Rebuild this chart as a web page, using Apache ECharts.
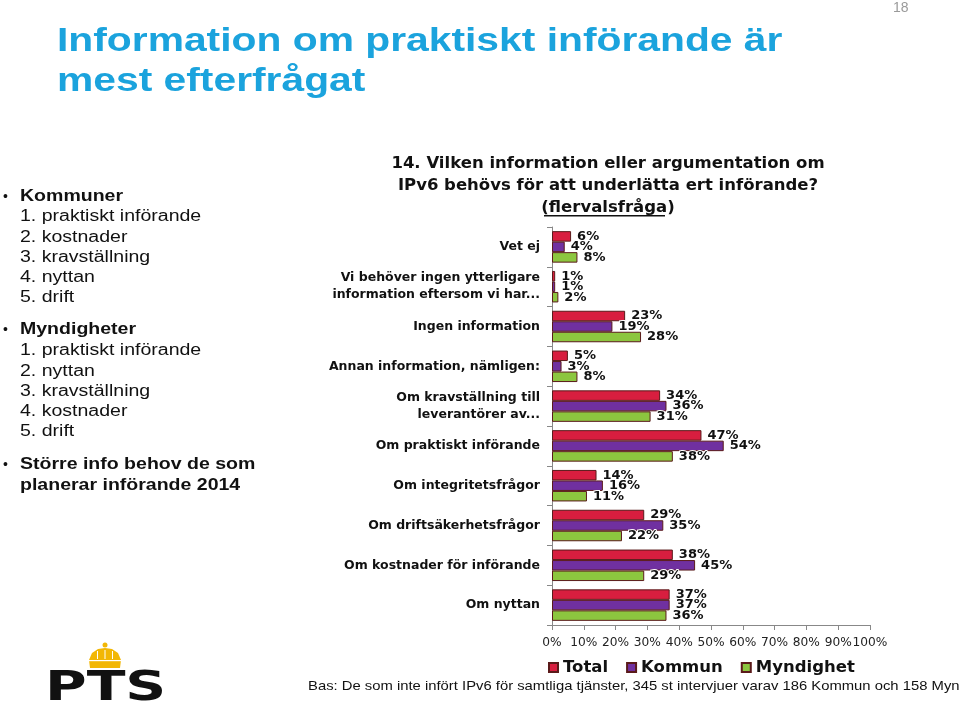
<!DOCTYPE html>
<html><head><meta charset="utf-8">
<script src="https://cdn.jsdelivr.net/npm/echarts@6/dist/echarts.min.js"></script>
<style>html,body{margin:0;padding:0;background:#fff}#c{width:960px;height:706px}</style>
</head><body><div id="c"></div>
<script>
const categories = ['Vet ej', 'Vi behöver ingen ytterligare\ninformation eftersom vi har...', 'Ingen information', 'Annan information, nämligen:', 'Om kravställning till\nleverantörer av...', 'Om praktiskt införande', 'Om integritetsfrågor', 'Om driftsäkerhetsfrågor', 'Om kostnader för införande', 'Om nyttan'];
const seriesNames = ['Total', 'Kommun', 'Myndighet'];
const total = [6, 1, 23, 5, 34, 47, 14, 29, 38, 37];
const kommun = [4, 1, 19, 3, 36, 54, 16, 35, 45, 37];
const myndighet = [8, 2, 28, 8, 31, 38, 11, 22, 29, 36];
const xTicks = [0, 10, 20, 30, 40, 50, 60, 70, 80, 90, 100];
const colors = ['#D81E3F', '#7030A0', '#8CC63F'];

const slideTitle = 'Information om praktiskt införande är\nmest efterfrågat';
const chartTitle = '14. Vilken information eller argumentation om\nIPv6 behövs för att underlätta ert införande?\n(flervalsfråga)';
const footer = 'Bas: De som inte infört IPv6 för samtliga tjänster, 345 st intervjuer varav 186 Kommun och 158 Myndighet';

const chart = echarts.init(document.getElementById('c'));
const valueSets = [total, kommun, myndighet];

const series = seriesNames.map((n, i) => ({
  name: n,
  type: 'bar',
  data: valueSets[i],
  barWidth: 10.5,
  barGap: '0%',
  itemStyle: { color: colors[i], borderColor: '#5a1a1a', borderWidth: 1 },
  label: {
    show: true, position: 'right', distance: 6,
    formatter: '{c}%',
    fontFamily: 'DejaVu Sans', fontWeight: 'bold', fontSize: 13, color: '#111',
    textBorderColor: '#fff', textBorderWidth: 2
  }
}));

const txt = (o) => ({ type: 'text', silent: true, ...o });
const SX = 1.22;
const leftFont = { fontFamily: 'Liberation Sans', fontSize: 16, fill: '#111', textVerticalAlign: 'top' };

chart.setOption({
  animation: false,
  backgroundColor: '#fff',
  title: {
    text: chartTitle,
    left: 603, top: 148, textAlign: 'center',
    textStyle: { fontFamily: 'DejaVu Sans', fontWeight: 'bold', fontSize: 16.5, lineHeight: 22, color: '#111' }
  },
  legend: {
    data: seriesNames,
    left: 543, top: 654,
    icon: 'rect', itemWidth: 9, itemHeight: 9, itemGap: 18,
    textStyle: { fontFamily: 'DejaVu Sans', fontWeight: 'bold', fontSize: 16.5, color: '#111' }
  },
  grid: { left: 552, right: 90, top: 227, bottom: 81, containLabel: false },
  xAxis: {
    type: 'value', min: 0, max: 100, interval: 10,
    axisLine: { show: true, lineStyle: { color: '#888' } },
    axisTick: { show: true, length: 5, lineStyle: { color: '#888' } },
    splitLine: { show: false },
    axisLabel: { formatter: '{value}%', margin: 12, showMinLabel: true, showMaxLabel: true, fontFamily: 'DejaVu Sans', fontSize: 12.2, color: '#222' }
  },
  yAxis: {
    type: 'category', data: categories, inverse: true,
    axisLine: { show: true, lineStyle: { color: '#888' } },
    axisTick: { show: true, length: 5, lineStyle: { color: '#888' } },
    axisLabel: { margin: 12, fontFamily: 'DejaVu Sans', fontWeight: 'bold', fontSize: 12.5, lineHeight: 17, color: '#111', align: 'right' }
  },
  series: series,
  graphic: [
    txt({ x: 57, y: 22, scaleX: 1.2, style: { text: slideTitle, x: 0, y: 0, fontFamily: 'Liberation Sans', fontWeight: 'bold', fontSize: 34, lineHeight: 40, fill: '#1BA3DD', textVerticalAlign: 'top' } }),
    txt({ x: 893, y: 8, style: { text: '18', fontFamily: 'Liberation Sans', fontSize: 14, fill: '#9a9a9a', textVerticalAlign: 'middle' } }),
    // bullets
    txt({ x: 3, y: 197, style: { text: '•', fontFamily: 'Liberation Sans', fontSize: 14, fill: '#111', textVerticalAlign: 'middle' } }),
    txt({ x: 20, y: 187, scaleX: SX, style: { ...leftFont, text: 'Kommuner', fontWeight: 'bold', lineHeight: 20 } }),
    txt({ x: 20, y: 206.9, scaleX: SX, style: { ...leftFont, text: '1. praktiskt införande\n2. kostnader\n3. kravställning\n4. nyttan\n5. drift', lineHeight: 20.25 } }),
    txt({ x: 3, y: 330, style: { text: '•', fontFamily: 'Liberation Sans', fontSize: 14, fill: '#111', textVerticalAlign: 'middle' } }),
    txt({ x: 20, y: 320, scaleX: SX, style: { ...leftFont, text: 'Myndigheter', fontWeight: 'bold', lineHeight: 20 } }),
    txt({ x: 20, y: 340.9, scaleX: SX, style: { ...leftFont, text: '1. praktiskt införande\n2. nyttan\n3. kravställning\n4. kostnader\n5. drift', lineHeight: 20.25 } }),
    txt({ x: 3, y: 465, style: { text: '•', fontFamily: 'Liberation Sans', fontSize: 14, fill: '#111', textVerticalAlign: 'middle' } }),
    txt({ x: 20, y: 454.5, scaleX: SX, style: { ...leftFont, text: 'Större info behov de som\nplanerar införande 2014', fontWeight: 'bold', lineHeight: 21 } }),
    // footer
    txt({ x: 308, y: 686, scaleX: 1.14, style: { text: footer, fontFamily: 'Liberation Sans', fontSize: 13, fill: '#111', textVerticalAlign: 'middle' } }),
    // underline for flervalsfråga
    { type: 'rect', silent: true, shape: { x: 544, y: 215, width: 121, height: 1.5 }, style: { fill: '#111' } },
    // logo crown
    { type: 'polygon', silent: true, shape: { points: [[90, 668], [120, 668], [121, 660], [118, 653], [112, 649], [105, 648], [98, 649], [92, 653], [89, 660]] }, style: { fill: '#F2B705' } },
    { type: 'circle', silent: true, shape: { cx: 105, cy: 645, r: 2.5 }, style: { fill: '#F2B705' } },
    { type: 'rect', silent: true, shape: { x: 89, y: 660, width: 32, height: 1.2 }, style: { fill: '#fff' } },
    { type: 'rect', silent: true, shape: { x: 97, y: 651, width: 1, height: 8 }, style: { fill: '#fff' } },
    { type: 'rect', silent: true, shape: { x: 104.5, y: 650, width: 1, height: 9 }, style: { fill: '#fff' } },
    { type: 'rect', silent: true, shape: { x: 112, y: 651, width: 1, height: 8 }, style: { fill: '#fff' } },
    txt({ x: 45, y: 690, scaleX: 1.42, style: { text: 'PTS', fontFamily: 'DejaVu Sans', fontWeight: 'bold', fontSize: 40, fill: '#111', textVerticalAlign: 'middle' } })
  ]
});
</script></body></html>
